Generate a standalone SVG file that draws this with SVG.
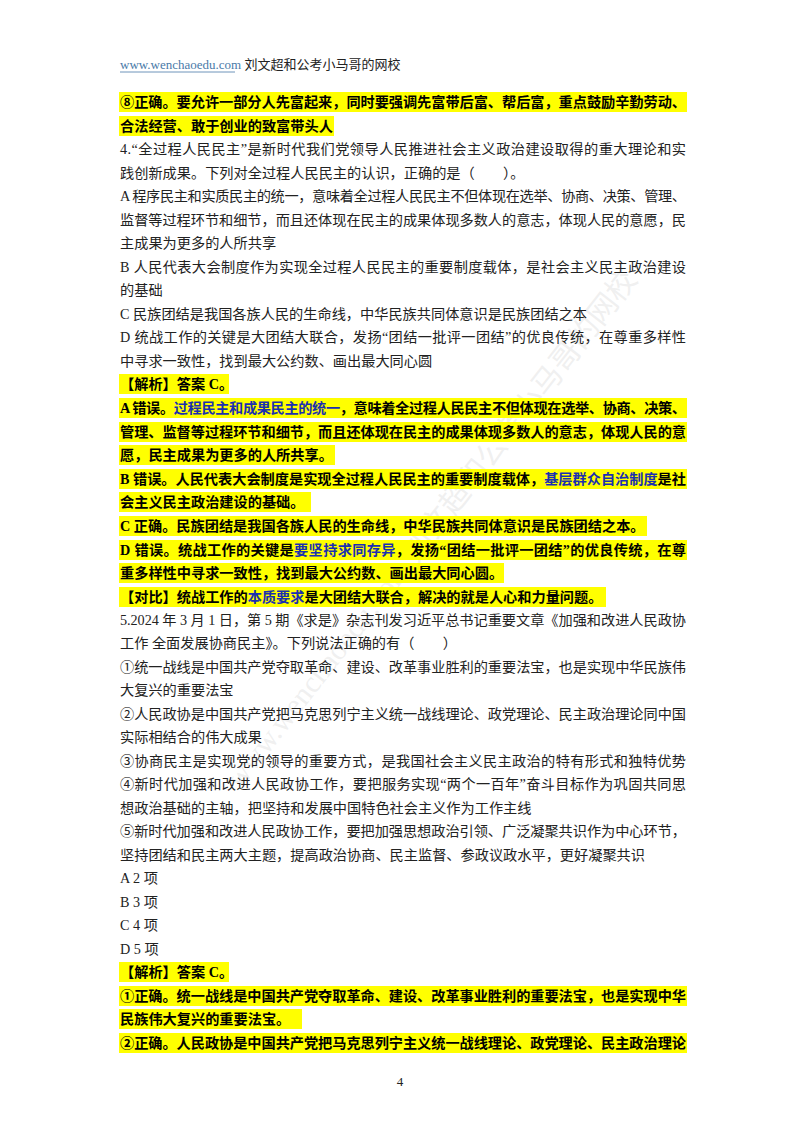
<svg xmlns="http://www.w3.org/2000/svg" width="800" height="1132" viewBox="0 0 800 1132">
<style>
text{font-family:"Liberation Serif","Noto Sans CJK SC",serif;font-size:14.2px;fill:#222}
.b{font-weight:bold;fill:#000}
.bl{fill:#1a2fb0}
.hl{fill:#ffff00}
.wm{font-size:30px;fill:#d8d8d8;fill-opacity:0.4}
</style>
<rect width="800" height="1132" fill="#fff"/>
<g id="watermark">
<text class="wm" transform="translate(240,790) rotate(-52)">www.wenchaoedu.com 刘文超和公考小马哥的网校</text>
</g>
<g id="header">
<text x="120" y="69" style="font-size:13px"><tspan fill="#4a7aa8">www.wenchaoedu.com </tspan><tspan>刘文超和公考小马哥的网校</tspan></text>
<line x1="120" y1="72" x2="235" y2="72" stroke="#4a7aa8" stroke-width="0.8"/>
</g>
<g id="highlights">
<rect class="hl" x="119" y="92" width="568" height="20"/>
<rect class="hl" x="119" y="116" width="215" height="20"/>
<rect class="hl" x="119" y="374" width="110" height="20"/>
<rect class="hl" x="119" y="398" width="568" height="20"/>
<rect class="hl" x="119" y="422" width="568" height="20"/>
<rect class="hl" x="119" y="445" width="216" height="20"/>
<rect class="hl" x="119" y="469" width="568" height="20"/>
<rect class="hl" x="119" y="492" width="192" height="20"/>
<rect class="hl" x="119" y="516" width="528" height="20"/>
<rect class="hl" x="119" y="540" width="568" height="20"/>
<rect class="hl" x="119" y="563" width="385" height="20"/>
<rect class="hl" x="119" y="587" width="487" height="20"/>
<rect class="hl" x="119" y="962" width="110" height="20"/>
<rect class="hl" x="119" y="986" width="568" height="20"/>
<rect class="hl" x="119" y="1009" width="183" height="20"/>
<rect class="hl" x="119" y="1033" width="568" height="20"/>
</g>
<g id="body">
<text class="b" x="120" y="107" textLength="566" lengthAdjust="spacing">⑧正确。要允许一部分人先富起来，同时要强调先富带后富、帮后富，重点鼓励辛勤劳动、</text>
<text class="b" x="120" y="131">合法经营、敢于创业的致富带头人</text>
<text x="120" y="154" textLength="566" lengthAdjust="spacing">4.“全过程人民民主”是新时代我们党领导人民推进社会主义政治建设取得的重大理论和实</text>
<text x="120" y="178">践创新成果。下列对全过程人民民主的认识，正确的是（　　）。</text>
<text x="120" y="201" textLength="566" lengthAdjust="spacing">A 程序民主和实质民主的统一，意味着全过程人民民主不但体现在选举、协商、决策、管理、</text>
<text x="120" y="225" textLength="566" lengthAdjust="spacing">监督等过程环节和细节，而且还体现在民主的成果体现多数人的意志，体现人民的意愿，民</text>
<text x="120" y="248">主成果为更多的人所共享</text>
<text x="120" y="272" textLength="566" lengthAdjust="spacing">B 人民代表大会制度作为实现全过程人民民主的重要制度载体，是社会主义民主政治建设</text>
<text x="120" y="295">的基础</text>
<text x="120" y="319">C 民族团结是我国各族人民的生命线，中华民族共同体意识是民族团结之本</text>
<text x="120" y="342" textLength="566" lengthAdjust="spacing">D 统战工作的关键是大团结大联合，发扬“团结一批评一团结”的优良传统，在尊重多样性</text>
<text x="120" y="366">中寻求一致性，找到最大公约数、画出最大同心圆</text>
<text class="b" x="120" y="389">【解析】答案 C。</text>
<text class="b" x="120" y="413" textLength="566" lengthAdjust="spacing">A 错误。<tspan class="bl">过程民主和成果民主的统一</tspan>，意味着全过程人民民主不但体现在选举、协商、决策、</text>
<text class="b" x="120" y="437" textLength="566" lengthAdjust="spacing">管理、监督等过程环节和细节，而且还体现在民主的成果体现多数人的意志，体现人民的意</text>
<text class="b" x="120" y="460">愿，民主成果为更多的人所共享。</text>
<text class="b" x="120" y="484" textLength="566" lengthAdjust="spacing">B 错误。人民代表大会制度是实现全过程人民民主的重要制度载体，<tspan class="bl">基层群众自治制度</tspan>是社</text>
<text class="b" x="120" y="507">会主义民主政治建设的基础。</text>
<text class="b" x="120" y="531">C 正确。民族团结是我国各族人民的生命线，中华民族共同体意识是民族团结之本。</text>
<text class="b" x="120" y="555" textLength="566" lengthAdjust="spacing">D 错误。统战工作的关键是<tspan class="bl">要坚持求同存异</tspan>，发扬“团结一批评一团结”的优良传统，在尊</text>
<text class="b" x="120" y="578">重多样性中寻求一致性，找到最大公约数、画出最大同心圆。</text>
<text class="b" x="120" y="602">【对比】统战工作的<tspan class="bl">本质要求</tspan>是大团结大联合，解决的就是人心和力量问题。</text>
<text x="120" y="625" textLength="566" lengthAdjust="spacing">5.2024 年 3 月 1 日，第 5 期《求是》杂志刊发习近平总书记重要文章《加强和改进人民政协</text>
<text x="120" y="648">工作  全面发展协商民主》。下列说法正确的有（　　）</text>
<text x="120" y="672" textLength="566" lengthAdjust="spacing">①统一战线是中国共产党夺取革命、建设、改革事业胜利的重要法宝，也是实现中华民族伟</text>
<text x="120" y="695">大复兴的重要法宝</text>
<text x="120" y="719" textLength="566" lengthAdjust="spacing">②人民政协是中国共产党把马克思列宁主义统一战线理论、政党理论、民主政治理论同中国</text>
<text x="120" y="742">实际相结合的伟大成果</text>
<text x="120" y="766" textLength="566" lengthAdjust="spacing">③协商民主是实现党的领导的重要方式，是我国社会主义民主政治的特有形式和独特优势</text>
<text x="120" y="789" textLength="566" lengthAdjust="spacing">④新时代加强和改进人民政协工作，要把服务实现“两个一百年”奋斗目标作为巩固共同思</text>
<text x="120" y="813">想政治基础的主轴，把坚持和发展中国特色社会主义作为工作主线</text>
<text x="120" y="836" textLength="566" lengthAdjust="spacing">⑤新时代加强和改进人民政协工作，要把加强思想政治引领、广泛凝聚共识作为中心环节，</text>
<text x="120" y="860">坚持团结和民主两大主题，提高政治协商、民主监督、参政议政水平，更好凝聚共识</text>
<text x="120" y="883">A 2 项</text>
<text x="120" y="907">B 3 项</text>
<text x="120" y="930">C 4 项</text>
<text x="120" y="954">D 5 项</text>
<text class="b" x="120" y="977">【解析】答案 C。</text>
<text class="b" x="120" y="1001" textLength="566" lengthAdjust="spacing">①正确。统一战线是中国共产党夺取革命、建设、改革事业胜利的重要法宝，也是实现中华</text>
<text class="b" x="120" y="1024">民族伟大复兴的重要法宝。</text>
<text class="b" x="120" y="1048" textLength="566" lengthAdjust="spacing">②正确。人民政协是中国共产党把马克思列宁主义统一战线理论、政党理论、民主政治理论</text>
<text x="400" y="1086" text-anchor="middle" style="font-size:13px">4</text>
</g>
</svg>
